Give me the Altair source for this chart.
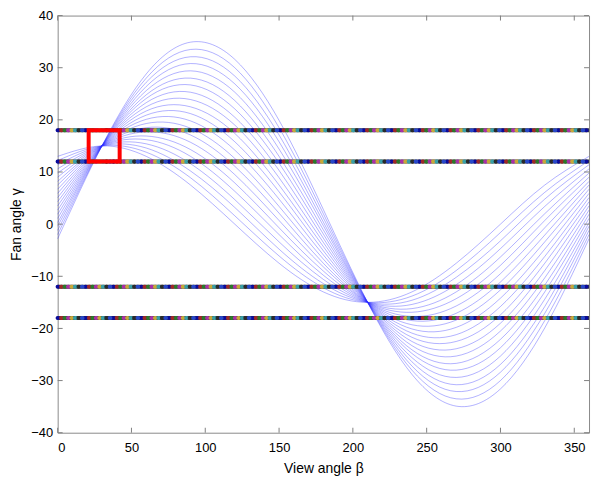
import altair as alt
import pandas as pd

# ---------------- data ----------------
beta_samples = [0, 30, 60, 90, 120, 150, 180, 210, 240, 270, 300, 330, 360]

curve_00 = [13.0, 15.0, 13.0, 7.5, 0.0, -7.5, -13.0, -15.0, -13.0, -7.5, 0.0, 7.5, 13.0]
curve_01 = [12.2, 15.0, 13.8, 8.9, 1.6, -6.1, -12.2, -15.0, -13.8, -8.9, -1.6, 6.1, 12.2]
curve_02 = [11.4, 15.0, 14.6, 10.2, 3.2, -4.8, -11.4, -15.0, -14.6, -10.2, -3.2, 4.8, 11.4]
curve_03 = [10.6, 15.0, 15.4, 11.6, 4.7, -3.4, -10.6, -15.0, -15.4, -11.6, -4.7, 3.4, 10.6]
curve_04 = [9.8, 15.0, 16.2, 13.0, 6.3, -2.0, -9.8, -15.0, -16.2, -13.0, -6.3, 2.0, 9.8]
curve_05 = [9.0, 15.0, 16.9, 14.3, 7.9, -0.7, -9.0, -15.0, -16.9, -14.3, -7.9, 0.7, 9.0]
curve_06 = [8.2, 15.0, 17.7, 15.7, 9.5, 0.7, -8.2, -15.0, -17.7, -15.7, -9.5, -0.7, 8.2]
curve_07 = [7.5, 15.0, 18.5, 17.1, 11.1, 2.1, -7.5, -15.0, -18.5, -17.1, -11.1, -2.1, 7.5]
curve_08 = [6.7, 15.0, 19.3, 18.4, 12.6, 3.4, -6.7, -15.0, -19.3, -18.4, -12.6, -3.4, 6.7]
curve_09 = [5.9, 15.0, 20.1, 19.8, 14.2, 4.8, -5.9, -15.0, -20.1, -19.8, -14.2, -4.8, 5.9]
curve_10 = [5.1, 15.0, 20.9, 21.2, 15.8, 6.2, -5.1, -15.0, -20.9, -21.2, -15.8, -6.2, 5.1]
curve_11 = [4.3, 15.0, 21.7, 22.5, 17.4, 7.5, -4.3, -15.0, -21.7, -22.5, -17.4, -7.5, 4.3]
curve_12 = [3.5, 15.0, 22.5, 23.9, 19.0, 8.9, -3.5, -15.0, -22.5, -23.9, -19.0, -8.9, 3.5]
curve_13 = [2.7, 15.0, 23.3, 25.3, 20.5, 10.3, -2.7, -15.0, -23.3, -25.3, -20.5, -10.3, 2.7]
curve_14 = [1.9, 15.0, 24.1, 26.7, 22.1, 11.7, -1.9, -15.0, -24.1, -26.7, -22.1, -11.7, 1.9]
curve_15 = [1.1, 15.0, 24.8, 28.0, 23.7, 13.0, -1.1, -15.0, -24.8, -28.0, -23.7, -13.0, 1.1]
curve_16 = [0.3, 15.0, 25.6, 29.4, 25.3, 14.4, -0.3, -15.0, -25.6, -29.4, -25.3, -14.4, 0.3]
curve_17 = [-0.4, 15.0, 26.4, 30.8, 26.9, 15.8, 0.4, -15.0, -26.4, -30.8, -26.9, -15.8, -0.4]
curve_18 = [-1.2, 15.0, 27.2, 32.1, 28.4, 17.1, 1.2, -15.0, -27.2, -32.1, -28.4, -17.1, -1.2]
curve_19 = [-2.0, 15.0, 28.0, 33.5, 30.0, 18.5, 2.0, -15.0, -28.0, -33.5, -30.0, -18.5, -2.0]
curve_20 = [-2.8, 15.0, 28.8, 34.9, 31.6, 19.9, 2.8, -15.0, -28.8, -34.9, -31.6, -19.9, -2.8]

curves = [curve_00, curve_01, curve_02, curve_03, curve_04, curve_05, curve_06,
          curve_07, curve_08, curve_09, curve_10, curve_11, curve_12, curve_13,
          curve_14, curve_15, curve_16, curve_17, curve_18, curve_19, curve_20]

line_levels = [18, 12, -12, -18]
dot_colors = ["#0a0a9a", "#a02828", "#2a7a2a", "#a830a8", "#c8a838",
              "#38a0a8", "#2a2a2a", "#2848c8"]
box_beta = [21, 42]
box_gamma = [12, 18]
x_ticks = [0, 50, 100, 150, 200, 250, 300, 350]
y_ticks = [-40, -30, -20, -10, 0, 10, 20, 30, 40]

# ---------------- tables ----------------
rows = []
for k, vals in enumerate(curves):
    for b, g in zip(beta_samples, vals):
        rows.append({"curve": k, "beta": b, "gamma": g})
curve_df = pd.DataFrame(rows)
level_df = pd.DataFrame({"level": line_levels})
box_df = pd.DataFrame({"b1": [box_beta[0]], "b2": [box_beta[1]],
                       "g1": [box_gamma[0]], "g2": [box_gamma[1]]})
xt_df = pd.DataFrame({"t": x_ticks})
yt_df = pd.DataFrame({"t": y_ticks})

XS = alt.Scale(domain=[0, 360], nice=False, zero=False)
YS = alt.Scale(domain=[-40, 40], nice=False, zero=False)
W, H = 535, 420
FONT = "Liberation Sans"

XA = alt.Axis(values=x_ticks, title="View angle β", format="d",
              domain=False, ticks=False, grid=False,
              labelFont=FONT, labelFontSize=13, labelColor="#000000",
              labelPadding=9, titleFont=FONT, titleFontSize=14,
              titleFontWeight="normal", titleColor="#000000", titlePadding=7)
YA = alt.Axis(values=y_ticks, title="Fan angle γ", format="d",
              domain=False, ticks=False, grid=False,
              labelFont=FONT, labelFontSize=13, labelColor="#000000",
              labelPadding=5, titleFont=FONT, titleFontSize=14,
              titleFontWeight="normal", titleColor="#000000", titlePadding=7)

curves_layer = alt.Chart(curve_df).mark_line(
    interpolate="natural", color="#2a2aff", strokeWidth=0.8, opacity=0.45
).encode(
    x=alt.X("beta:Q", scale=XS, axis=XA),
    y=alt.Y("gamma:Q", scale=YS, axis=YA),
    detail="curve:N",
)

spacing = 3.5
period = spacing * len(dot_colors)
base_rule = alt.Chart(level_df).mark_rule(color="#3a3a3a", strokeWidth=4).encode(
    x=alt.X(datum=0, type="quantitative", scale=XS, axis=XA),
    x2=alt.X2(datum=360),
    y=alt.Y("level:Q", scale=YS, axis=YA),
)
dot_layers = []
for i, c in enumerate(dot_colors):
    dot_layers.append(
        alt.Chart(level_df).mark_rule(
            color=c, strokeWidth=4.2, strokeCap="round",
            strokeDash=[0.5, period - 0.5], strokeDashOffset=-i * spacing,
        ).encode(
            x=alt.X(datum=0, type="quantitative", scale=XS, axis=XA),
            x2=alt.X2(datum=360),
            y=alt.Y("level:Q", scale=YS, axis=YA),
        )
    )

box_layer = alt.Chart(box_df).mark_rect(
    fillOpacity=0, stroke="#ff0000", strokeWidth=4
).encode(
    x=alt.X("b1:Q", scale=XS, axis=XA), x2="b2:Q",
    y=alt.Y("g1:Q", scale=YS, axis=YA), y2="g2:Q",
)

tick_color = "#808080"
tb = alt.Chart(xt_df).mark_rule(color=tick_color).encode(
    x=alt.X("t:Q", scale=XS, axis=XA), y=alt.value(H), y2=alt.value(H - 5))
tt = alt.Chart(xt_df).mark_rule(color=tick_color).encode(
    x=alt.X("t:Q", scale=XS, axis=XA), y=alt.value(0), y2=alt.value(5))
tl = alt.Chart(yt_df).mark_rule(color=tick_color).encode(
    y=alt.Y("t:Q", scale=YS, axis=YA), x=alt.value(0), x2=alt.value(5))
tr = alt.Chart(yt_df).mark_rule(color=tick_color).encode(
    y=alt.Y("t:Q", scale=YS, axis=YA), x=alt.value(W), x2=alt.value(W - 5))

chart = alt.layer(
    curves_layer, base_rule, *dot_layers, box_layer, tb, tt, tl, tr
).properties(
    width=W, height=H,
    autosize=alt.AutoSizeParams(type="none"),
    padding={"left": 50, "top": 6, "right": 5, "bottom": 48},
    background="white",
).configure_view(
    stroke="#8a8a8a", strokeWidth=1
)

chart.save("out.html", embed_options={"renderer": "svg", "actions": False})
